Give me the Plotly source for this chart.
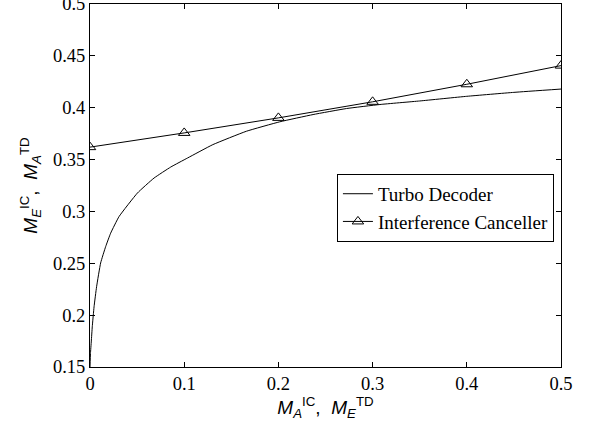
import plotly.graph_objects as go

# Turbo Decoder EXIT curve
td_x = [0, 0.0005, 0.0014, 0.0024, 0.0043, 0.0070, 0.0113, 0.0166, 0.0219, 0.0308,
        0.0503, 0.068, 0.0857, 0.1035, 0.1304, 0.166, 0.2014, 0.2368, 0.2723,
        0.3078, 0.35, 0.4, 0.45, 0.5]
td_y = [0.15, 0.163, 0.175, 0.1887, 0.208, 0.2274, 0.2503, 0.266, 0.279, 0.295,
        0.3177, 0.3322, 0.3428, 0.3515, 0.3644, 0.3773, 0.3864, 0.3934, 0.3992,
        0.4031, 0.4065, 0.411, 0.4148, 0.418]

# Interference Canceller
ic_x = [0, 0.1, 0.2, 0.3, 0.4, 0.5]
ic_y = [0.362, 0.3757, 0.3902, 0.4057, 0.4226, 0.4406]

x_ticks = [0, 0.1, 0.2, 0.3, 0.4, 0.5]
y_ticks = [0.15, 0.2, 0.25, 0.3, 0.35, 0.4, 0.45, 0.5]

serif = "Liberation Serif"
sans = "Liberation Sans"

fig = go.Figure()
fig.add_trace(go.Scatter(x=td_x, y=td_y, mode="lines", name="Turbo Decoder",
                         line=dict(color="black", width=1, shape="spline", smoothing=0.4)))
fig.add_trace(go.Scatter(x=ic_x, y=ic_y, mode="lines+markers", name="Interference Canceller",
                         line=dict(color="black", width=1),
                         marker=dict(symbol="triangle-up-open", size=10, color="black",
                                     line=dict(width=1, color="black"))))

axis_common = dict(showgrid=False, zeroline=False, showline=True, linecolor="black",
                   linewidth=1, mirror="ticks", ticks="inside", ticklen=5,
                   tickcolor="black", ticklabeloverflow="allow", automargin=False,
                   tickfont=dict(family=serif, size=18.5, color="black"))

fig.update_layout(
    width=589, height=430,
    margin=dict(l=90, r=28, t=4, b=63),
    paper_bgcolor="white", plot_bgcolor="white",
    showlegend=True,
    legend=dict(x=0.985, y=0.532, xanchor="right", yanchor="top",
                bordercolor="black", borderwidth=1, bgcolor="white",
                font=dict(family=serif, size=19, color="black"),
                itemwidth=30, tracegroupgap=0),
    xaxis=dict(range=[0, 0.5], tickvals=x_ticks, ticktext=[f"{v:g}" for v in x_ticks],
               title=dict(text="<i>M</i><sub><i>A</i></sub><sup>IC</sup>,  <i>M</i><sub><i>E</i></sub><sup>TD</sup>",
                          font=dict(family=sans, size=19, color="black"), standoff=4),
               **axis_common),
    yaxis=dict(range=[0.15, 0.5], tickvals=y_ticks, ticktext=[f"{v:g}" for v in y_ticks],
               title=dict(text="<i>M</i><sub><i>E</i></sub><sup>IC</sup>,  <i>M</i><sub><i>A</i></sub><sup>TD</sup>",
                          font=dict(family=sans, size=19, color="black"), standoff=10),
               **axis_common),
)

fig.write_html("out.html")
